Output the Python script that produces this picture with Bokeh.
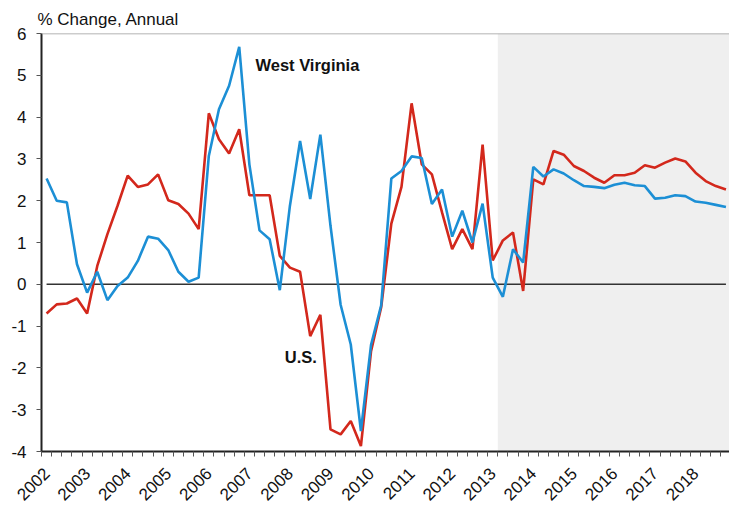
import math
from bokeh.plotting import figure
from bokeh.models import Range1d, FixedTicker, Label, Span, BoxAnnotation
from bokeh.embed import file_html
from bokeh.resources import INLINE

# ---- data (quarterly, 2002Q1 .. 2018Q4) ----
years = [str(y) for y in range(2002, 2019)]
west_virginia = [2.53, 2.0, 1.96, 0.48, -0.2, 0.30, -0.38, -0.04, 0.16, 0.56, 1.14, 1.09, 0.82, 0.30, 0.06, 0.16,
                 3.07, 4.19, 4.75, 5.68, 2.87, 1.29, 1.08, -0.14, 1.88, 3.43, 2.04, 3.58, 1.4, -0.49, -1.44, -3.51,
                 -1.45, -0.5, 2.53, 2.71, 3.06, 3.02, 1.92, 2.27, 1.14, 1.76, 1.0, 1.93, 0.16, -0.30, 0.84, 0.52,
                 2.81, 2.58, 2.75, 2.65, 2.49, 2.35, 2.33, 2.30, 2.38, 2.43, 2.37, 2.35, 2.05, 2.07, 2.13, 2.11,
                 1.98, 1.95, 1.90, 1.85]
us = [-0.70, -0.48, -0.46, -0.34, -0.70, 0.44, 1.2, 1.88, 2.6, 2.33, 2.39, 2.63, 2.01, 1.92, 1.69, 1.32,
      4.09, 3.47, 3.13, 3.71, 2.13, 2.13, 2.13, 0.68, 0.40, 0.30, -1.24, -0.73, -3.47, -3.59, -3.27, -3.87,
      -1.6, -0.55, 1.45, 2.33, 4.33, 2.87, 2.63, 1.72, 0.84, 1.32, 0.84, 3.34, 0.57, 1.05, 1.24, -0.16,
      2.51, 2.39, 3.19, 3.10, 2.83, 2.71, 2.55, 2.43, 2.61, 2.61, 2.67, 2.85, 2.79, 2.91, 3.01, 2.94,
      2.67, 2.47, 2.35, 2.27]
y_ticks = [-4, -3, -2, -1, 0, 1, 2, 3, 4, 5, 6]
forecast_start = 45  # first forecast quarter index (2013Q2)

n = len(us)
x = list(range(n))

FONT = "Liberation Sans"
RED = "#D3281C"
BLUE = "#1C8FD5"

p = figure(width=729, height=509, x_range=Range1d(-0.5, 67.35), y_range=Range1d(-4, 6),
           output_backend="svg", toolbar_location=None,
           min_border_left=41, min_border_right=0, min_border_top=33, min_border_bottom=58)
p.grid.visible = False
p.outline_line_color = None
p.background_fill_color = "white"

# title
p.title.text = "% Change, Annual"
p.title.text_font = FONT
p.title.text_font_size = "17px"
p.title.text_font_style = "normal"
p.title.text_color = "#111111"
p.title.align = "left"
p.title.offset = -4
p.title.standoff = 10

# forecast shading
p.add_layout(BoxAnnotation(left=forecast_start - 0.5, fill_color="#EFEFEF", fill_alpha=1.0,
                           line_color=None, level="underlay"))
# top border line
p.add_layout(Span(location=y_ticks[-1], dimension="width", line_color="#9A9A9A", line_width=1.5))

# zero line
p.line([x[0], x[-1]], [0, 0], line_color="#333333", line_width=1.5)

p.line(x, us, line_color=RED, line_width=2.6)
p.line(x, west_virginia, line_color=BLUE, line_width=2.6)

# series labels
p.add_layout(Label(x=20.6, y=5.24, text="West Virginia", text_font=FONT, text_font_size="16.5px",
                   text_font_style="bold", text_color="#111111", text_baseline="middle"))
p.add_layout(Label(x=23.5, y=-1.75, text="U.S.", text_font=FONT, text_font_size="16.5px",
                   text_font_style="bold", text_color="#111111", text_baseline="middle"))

# x axis
xa = p.xaxis[0]
label_pos = [4 * k for k in range(len(years))]
xa.ticker = FixedTicker(ticks=label_pos, minor_ticks=[i - 0.5 for i in range(n + 1)])
xa.major_label_overrides = {pos: yr for pos, yr in zip(label_pos, years)}
xa.major_label_orientation = math.pi / 4
xa.major_label_text_font = FONT
xa.major_label_text_font_size = "17px"
xa.major_label_text_color = "#111111"
xa.major_label_standoff = 14
xa.major_tick_line_color = None
xa.major_tick_out = 5
xa.major_tick_in = 0
xa.minor_tick_line_color = "#555555"
xa.minor_tick_line_width = 1
xa.minor_tick_out = 5
xa.minor_tick_in = 0
xa.axis_line_color = "#222222"
xa.axis_line_width = 2

# y axis
ya = p.yaxis[0]
ya.ticker = FixedTicker(ticks=y_ticks)
ya.major_label_overrides = {t: str(t) for t in y_ticks}
ya.major_label_text_font = FONT
ya.major_label_text_font_size = "17px"
ya.major_label_text_color = "#111111"
ya.major_label_standoff = 10
ya.major_tick_line_color = "#555555"
ya.major_tick_out = 5
ya.major_tick_in = 0
ya.minor_tick_line_color = None
ya.axis_line_color = "#222222"
ya.axis_line_width = 2

open("out.html", "w").write(file_html(p, INLINE))
